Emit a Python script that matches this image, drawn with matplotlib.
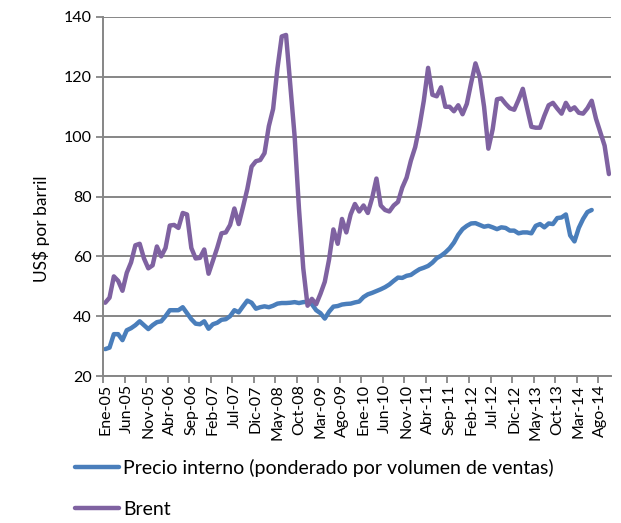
# Precio interno del crudo vs Brent, mensual ene-05 a oct-14
import matplotlib
matplotlib.use('Agg')
import matplotlib.pyplot as plt

# Etiquetas del eje x (una cada 5 meses)
etiquetas = ['Ene-05', 'Jun-05', 'Nov-05', 'Abr-06', 'Sep-06', 'Feb-07', 'Jul-07',
             'Dic-07', 'May-08', 'Oct-08', 'Mar-09', 'Ago-09', 'Ene-10', 'Jun-10',
             'Nov-10', 'Abr-11', 'Sep-11', 'Feb-12', 'Jul-12', 'Dic-12', 'May-13',
             'Oct-13', 'Mar-14', 'Ago-14']

# Brent (US$/barril), ene-05 a oct-14
brent = [44.5, 46.2, 53.3, 51.8, 48.5, 54.5, 58.0, 63.7, 64.2, 59.3, 56.0, 57.0,
         63.3, 60.0, 62.8, 70.3, 70.5, 69.5, 74.5, 74.0, 62.8, 59.3, 59.5, 62.3,
         54.2, 58.5, 62.8, 67.7, 68.0, 70.5, 76.0, 70.8, 76.5, 82.5, 90.0, 91.8,
         92.2, 94.5, 103.5, 109.3, 122.8, 133.5, 134.0, 117.0, 100.0, 76.0, 56.0, 43.5,
         45.8, 44.0, 47.5, 51.5, 59.0, 69.0, 64.2, 72.5, 68.0, 74.0, 77.5, 75.0,
         77.0, 74.5, 79.5, 86.0, 77.0, 75.5, 75.0, 77.0, 78.2, 83.0, 86.3, 92.0,
         96.5, 103.5, 112.0, 123.0, 114.0, 113.5, 116.5, 110.0, 110.0, 108.5, 110.5, 107.5,
         111.0, 118.0, 124.5, 120.0, 110.0, 96.0, 102.5, 112.5, 112.8, 111.0, 109.5, 109.0,
         112.3, 116.0, 109.5, 103.3, 103.0, 103.0, 107.0, 110.5, 111.3, 109.4, 107.7, 111.3,
         108.9, 109.8, 108.0, 107.7, 109.5, 112.0, 106.0, 101.5, 97.0, 87.5]

# Precio interno ponderado, ene-05 a jun-14
interno = [29.0, 29.5, 34.0, 34.0, 32.0, 35.3, 36.0, 37.0, 38.3, 37.0, 35.7, 37.0,
           38.0, 38.3, 40.0, 42.0, 42.0, 42.0, 43.0, 41.0, 39.0, 37.5, 37.3, 38.3,
           35.8, 37.3, 37.8, 38.8, 39.0, 40.0, 42.0, 41.3, 43.3, 45.2, 44.5, 42.5,
           43.0, 43.3, 43.0, 43.5, 44.2, 44.4, 44.4, 44.5, 44.7, 44.4, 44.7, 44.8,
           44.0, 42.0, 41.0, 39.2, 41.5, 43.2, 43.4, 43.9, 44.1, 44.2, 44.6, 44.9,
           46.4, 47.3, 47.8, 48.4, 49.0, 49.7, 50.6, 51.8, 52.9, 52.8, 53.5, 53.8,
           54.8, 55.7, 56.2, 56.8, 57.9, 59.4, 60.2, 61.3, 62.7, 64.6, 67.2, 69.1,
           70.2, 71.0, 71.1, 70.5, 69.9, 70.2, 69.7, 69.1, 69.7, 69.5, 68.6, 68.6,
           67.7, 68.0, 68.0, 67.7, 70.2, 70.8, 69.7, 71.0, 70.8, 72.8, 73.0, 74.0,
           67.0, 65.0, 69.5, 72.5, 74.8, 75.5]

gris = '#868686'
plt.rcParams['font.family'] = ['Lato', 'DejaVu Sans']

fig = plt.figure(figsize=(6.21, 5.23), dpi=100)
ax = fig.add_axes([0.166, 0.281, 0.818, 0.6865])

ax.plot(range(len(interno)), interno, color='#4A7EBB', lw=3.2,
        solid_capstyle='round', label='Precio interno (ponderado por volumen de ventas)')
ax.plot(range(len(brent)), brent, color='#7F62A1', lw=3.2,
        solid_capstyle='round', label='Brent')

ax.set_xlim(-0.5, len(brent) - 0.5)
ax.set_ylim(20, 140)
ax.set_yticks(range(20, 141, 20))
ax.grid(axis='y', color=gris, lw=1.4)
ax.set_axisbelow(True)

# etiquetas en el centro de la categoria, marcas en los bordes
ax.set_xticks(range(0, len(brent), 5))
ax.set_xticklabels(etiquetas, rotation=90, fontsize=11.5)
ax.set_xticks([i - 0.5 for i in range(0, len(brent) + 1, 5)], minor=True)
ax.tick_params(axis='x', which='major', length=0, pad=6)
ax.tick_params(axis='x', which='minor', length=5, color=gris, width=1.3)
ax.tick_params(axis='y', length=5, color=gris, width=1.3, labelsize=11.5, pad=3)

for s in ['top', 'right']:
    ax.spines[s].set_visible(False)
for s in ['left', 'bottom']:
    ax.spines[s].set_color(gris)
    ax.spines[s].set_linewidth(1.4)

ax.set_ylabel('US$ por barril', fontsize=12.5)
ax.yaxis.set_label_coords(-0.105, 0.41)

# leyenda debajo, una entrada por fila
fig.legend(loc='upper left', bbox_to_anchor=(0.12, 0.122), frameon=False,
           fontsize=14, handlelength=2.3, handletextpad=0.2, labelspacing=1.2,
           borderpad=0, borderaxespad=0)

fig.savefig('out.png', dpi=100)
